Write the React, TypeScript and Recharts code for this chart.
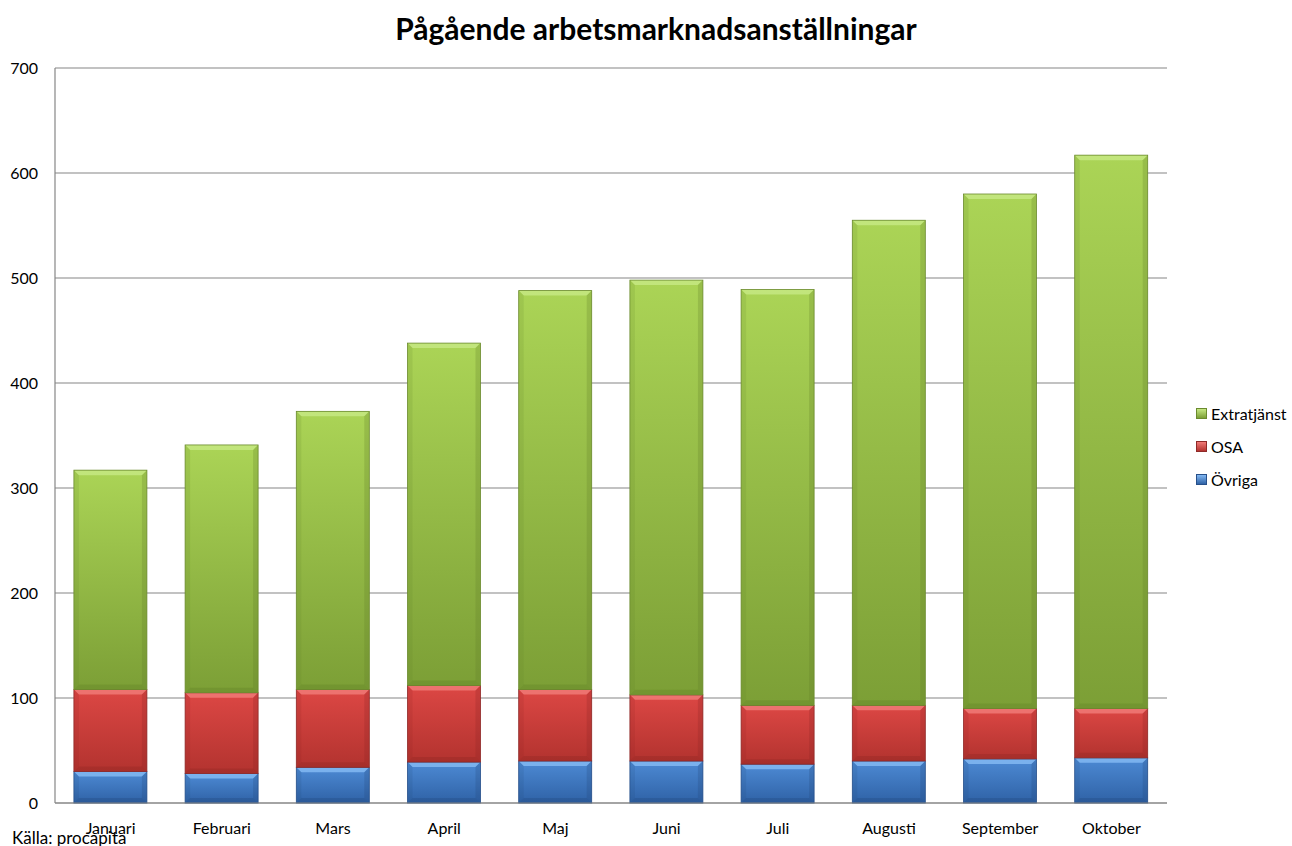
import { BarChart, Bar, XAxis, YAxis, CartesianGrid } from 'recharts'

const months = ['Januari', 'Februari', 'Mars', 'April', 'Maj', 'Juni', 'Juli', 'Augusti', 'September', 'Oktober']
const ovriga = [30, 28, 34, 39, 40, 40, 37, 40, 42, 43]
const osa = [78, 77, 74, 73, 68, 63, 56, 53, 48, 47]
const extratjanst = [209, 236, 265, 326, 380, 395, 396, 462, 490, 527]
const yTicks = [0, 100, 200, 300, 400, 500, 600, 700]

const data = months.map((m, i) => ({
  month: m,
  ovriga: ovriga[i],
  osa: osa[i],
  extratjanst: extratjanst[i],
}))

const FONT = 'Lato, "Open Sans", sans-serif'

const palette = {
  green: { top: '#abd456', bottom: '#7c9f36', light: '#c6e883', dark: '#5e7d26', edge: '#6b8a2e' },
  red: { top: '#dc4744', bottom: '#b3332f', light: '#f07a77', dark: '#8a2322', edge: '#8f2a28' },
  blue: { top: '#4d8ad4', bottom: '#2f62a6', light: '#82b8f2', dark: '#22477c', edge: '#27508a' },
}

type Pal = (typeof palette)['green']

const bevel = (id: string, c: Pal) => (props: any) => {
  const { x, y, width: w, height: h } = props
  if (!h || h <= 0) return <g />
  const b = Math.min(5, h / 4)
  return (
    <g>
      <rect x={x} y={y} width={w} height={h} fill={`url(#g-${id})`} />
      <polygon points={`${x},${y} ${x + w},${y} ${x + w - b},${y + b} ${x + b},${y + b}`} fill={c.light} opacity={0.85} />
      <polygon points={`${x},${y + h} ${x + w},${y + h} ${x + w - b},${y + h - b} ${x + b},${y + h - b}`} fill={c.dark} opacity={0.3} />
      <polygon points={`${x},${y} ${x + b},${y + b} ${x + b},${y + h - b} ${x},${y + h}`} fill={c.dark} opacity={0.15} />
      <polygon points={`${x + w},${y} ${x + w - b},${y + b} ${x + w - b},${y + h - b} ${x + w},${y + h}`} fill={c.dark} opacity={0.25} />
      <rect x={x} y={y} width={w} height={h} fill="none" stroke={c.edge} strokeWidth={0.8} />
    </g>
  )
}

const legendItems = [
  { name: 'Extratjänst', c: palette.green },
  { name: 'OSA', c: palette.red },
  { name: 'Övriga', c: palette.blue },
]

export default function App() {
  return (
    <div style={{ position: 'absolute', left: 0, top: 0, width: 1292, height: 846, background: '#fff', fontFamily: FONT, overflow: 'hidden' }}>
      <svg width={0} height={0} style={{ position: 'absolute' }}>
        <defs>
          {Object.entries(palette).map(([k, c]) => (
            <linearGradient key={k} id={`g-${k}`} x1="0" y1="0" x2="0" y2="1">
              <stop offset="0%" stopColor={c.top} />
              <stop offset="100%" stopColor={c.bottom} />
            </linearGradient>
          ))}
        </defs>
      </svg>
      <div
        style={{
          position: 'absolute',
          top: 10,
          left: 0,
          width: 1312,
          textAlign: 'center',
          fontSize: 30,
          fontWeight: 700,
          color: '#000',
        }}
      >
        Pågående arbetsmarknadsanställningar
      </div>
      <BarChart
        width={1292}
        height={846}
        data={data}
        margin={{ top: 68, right: 125, bottom: 13, left: 0 }}
        barCategoryGap="17%"
      >
        <CartesianGrid vertical={false} stroke="#868686" strokeWidth={1.2} />
        <XAxis
          dataKey="month"
          height={30}
          tickLine={false}
          axisLine={{ stroke: '#868686', strokeWidth: 1.2 }}
          tickMargin={14}
          tick={{ fill: '#000', fontSize: 16, fontFamily: FONT }}
          interval={0}
        />
        <YAxis
          width={55}
          domain={[0, 700]}
          ticks={yTicks}
          tickLine={false}
          tickSize={0}
          tickMargin={17}
          axisLine={{ stroke: '#868686', strokeWidth: 1.2 }}
          tick={{ fill: '#000', fontSize: 16, fontFamily: FONT }}
        />
        <Bar dataKey="ovriga" name="Övriga" stackId="a" fill={palette.blue.top} shape={bevel('blue', palette.blue)} isAnimationActive={false} />
        <Bar dataKey="osa" name="OSA" stackId="a" fill={palette.red.top} shape={bevel('red', palette.red)} isAnimationActive={false} />
        <Bar dataKey="extratjanst" name="Extratjänst" stackId="a" fill={palette.green.top} shape={bevel('green', palette.green)} isAnimationActive={false} />
      </BarChart>
      <div style={{ position: 'absolute', left: 1196, top: 397, fontSize: 16, color: '#000' }}>
        {legendItems.map((it) => (
          <div key={it.name} style={{ display: 'flex', alignItems: 'center', height: 33 }}>
            <span
              style={{
                width: 9,
                height: 9,
                marginRight: 4,
                background: `linear-gradient(${it.c.light}, ${it.c.bottom})`,
                border: `1px solid ${it.c.edge}`,
              }}
            />
            {it.name}
          </div>
        ))}
      </div>
      <div style={{ position: 'absolute', left: 12, top: 828, fontSize: 17, lineHeight: '20px', color: '#000' }}>Källa: procapita</div>
    </div>
  )
}
